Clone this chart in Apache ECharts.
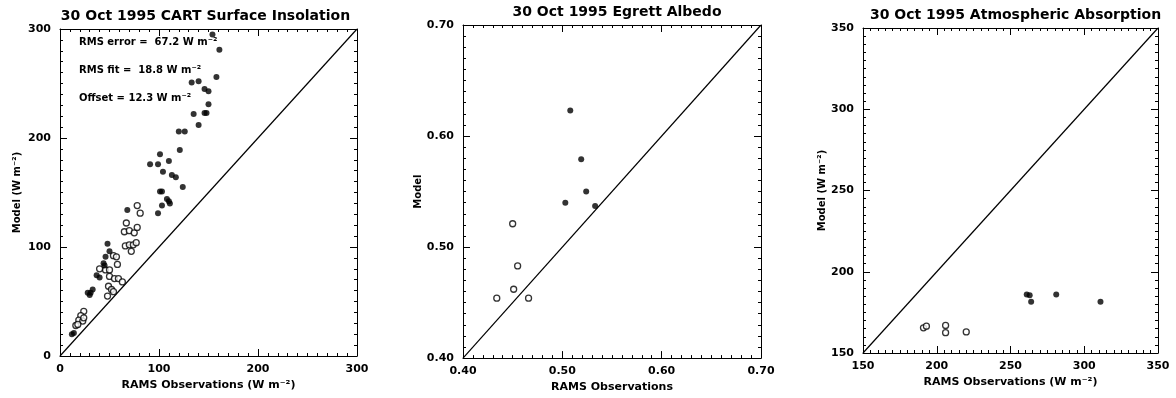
<!DOCTYPE html>
<html>
<head>
<meta charset="utf-8">
<script src="https://cdn.jsdelivr.net/npm/echarts@6/dist/echarts.min.js"></script>
<style>
html,body{margin:0;padding:0;background:#fff;}
#chart{width:1176px;height:398px;}
</style>
</head>
<body>
<div id="chart"></div>
<script>
// ---- Data ----
const titles = ["30 Oct 1995 CART Surface Insolation", "30 Oct 1995 Egrett Albedo", "30 Oct 1995 Atmospheric Absorption"];
const xNames = ["RAMS Observations (W m\u207B\u00B2)", "RAMS Observations", "RAMS Observations (W m\u207B\u00B2)"];
const yNames = ["Model (W m\u207B\u00B2)", "Model", "Model (W m\u207B\u00B2)"];
const annotations = ["RMS error =  67.2 W m\u207B\u00B2", "RMS fit =  18.8 W m\u207B\u00B2", "Offset = 12.3 W m\u207B\u00B2"];

// Panel 1: CART surface insolation
const insolationFilled = [
  [154,295],[161,281],[158,256],[133,251],[140,252],[146,245],[150,243],[150,231],
  [135,222],[146,223],[148,223],[140,212],[120,206],[126,206],[121,189],
  [91,176],[99,176],[101,185],[110,179],[104,169],[113,166],[117,164],[124,155],
  [101,151],[103,151],[108,144],[110,142],[99,131],[103,138],[111,140],
  [68,134],[48,103],[50,96],[46,91],[44,85],[45,83],[37,74],[40,72],
  [28,58],[30,56],[31,58],[33,61],[14,21],[12,20]
];
const insolationOpen = [
  [78,138],[81,131],[67,122],[65,114],[70,115],[75,113],[78,118],
  [66,101],[70,102],[74,102],[77,104],[72,96],[58,84],[54,92],[57,91],
  [46,79],[50,79],[50,73],[55,71],[59,71],[63,68],[49,64],[52,61],[54,59],
  [48,55],[40,80],[24,41],[21,37],[19,33],[23,32],[16,28],[18,29],[24,35]
];

// Panel 2: Egrett albedo
const albedoFilled = [[0.508,0.623],[0.519,0.579],[0.524,0.550],[0.503,0.540],[0.533,0.537]];
const albedoOpen = [[0.450,0.521],[0.455,0.483],[0.451,0.462],[0.434,0.454],[0.466,0.454]];

// Panel 3: atmospheric absorption
const absorptionFilled = [[261,186],[263,185.5],[264,181.5],[281,186],[311,181.5]];
const absorptionOpen = [[191,165.5],[193,166.5],[206,167],[206,162.5],[220,163]];

// Axis ranges
const ranges = [
  {min:0, max:300, interval:100, dec:0},
  {min:0.4, max:0.7, interval:0.1, dec:2},
  {min:150, max:350, interval:50, dec:0}
];

const grids = [
  {left:60, top:29, width:297, height:327},
  {left:463, top:25, width:298, height:334},
  {left:863, top:28, width:295, height:325}
];

const FONT = "DejaVu Sans";
const chart = echarts.init(document.getElementById('chart'), null, {renderer:'canvas'});

const xAxes = [], yAxes = [], series = [], titleOpts = [];
const yNameGaps = [38, 40, 36];

grids.forEach((g, i) => {
  const r = ranges[i];
  const fmt = v => Number(v).toFixed(r.dec);
  const common = {
    type:'value', min:r.min, max:r.max, interval:r.interval,
    gridIndex:i,
    axisLine:{show:true, onZero:false, lineStyle:{color:'#000', width:1}},
    axisTick:{show:true, inside:true, length:7, lineStyle:{color:'#000', width:1}},
    minorTick:{show:true, splitNumber:10, length:3, lineStyle:{color:'#000', width:1}},
    splitLine:{show:false},
    minorSplitLine:{show:false}
  };
  xAxes.push(Object.assign({}, common, {
    position:'bottom',
    name:xNames[i], nameLocation:'middle', nameGap:21,
    nameTextStyle:{fontFamily:FONT, fontSize:11, fontWeight:'bold', color:'#000'},
    axisLabel:{show:true, margin:8, formatter:fmt, fontFamily:FONT, fontSize:11, fontWeight:'bold', color:'#000'}
  }));
  xAxes.push(Object.assign({}, common, {
    position:'top', axisLabel:{show:false}
  }));
  yAxes.push(Object.assign({}, common, {
    position:'left',
    name:yNames[i], nameLocation:'middle', nameGap:yNameGaps[i],
    nameTextStyle:{fontFamily:FONT, fontSize:10, fontWeight:'bold', color:'#000'},
    axisLabel:{show:true, margin:9, formatter:fmt, fontFamily:FONT, fontSize:11, fontWeight:'bold', color:'#000'}
  }));
  yAxes.push(Object.assign({}, common, {
    position:'right', axisLabel:{show:false}
  }));
  titleOpts.push({
    text:titles[i],
    left:g.left + g.width/2 + (i===0 ? -8 : 0), top:g.top - 25, textAlign:'center',
    textStyle:{fontFamily:FONT, fontSize:14, fontWeight:'bold', color:'#000'}
  });
});

const panelData = [
  [insolationFilled, insolationOpen],
  [albedoFilled, albedoOpen],
  [absorptionFilled, absorptionOpen]
];

panelData.forEach((pd, i) => {
  const r = ranges[i];
  series.push({
    type:'line', xAxisIndex:2*i, yAxisIndex:2*i,
    data:[[r.min, r.min],[r.max, r.max]],
    symbol:'none', silent:true, animation:false,
    lineStyle:{color:'#000', width:1.2}, z:1
  });
  series.push({
    type:'scatter', xAxisIndex:2*i, yAxisIndex:2*i,
    data:pd[1], symbol:'circle', symbolSize:6, animation:false,
    itemStyle:{color:'#fff', borderColor:'#000', borderWidth:1.3}, z:2
  });
  series.push({
    type:'scatter', xAxisIndex:2*i, yAxisIndex:2*i,
    data:pd[0], symbol:'circle', symbolSize:6, animation:false,
    itemStyle:{color:'#000'}, z:3
  });
});

const graphics = annotations.map((t, k) => ({
  type:'text', left:79, top:37 + k*28,
  style:{text:t, fontFamily:FONT, fontSize:10, fontWeight:'bold', fill:'#000'}
}));

chart.setOption({
  animation:false,
  backgroundColor:'#fff',
  title:titleOpts,
  grid:grids.map(g => Object.assign({containLabel:false}, g)),
  xAxis:xAxes,
  yAxis:yAxes,
  series:series,
  graphic:graphics
});
</script>
</body>
</html>
